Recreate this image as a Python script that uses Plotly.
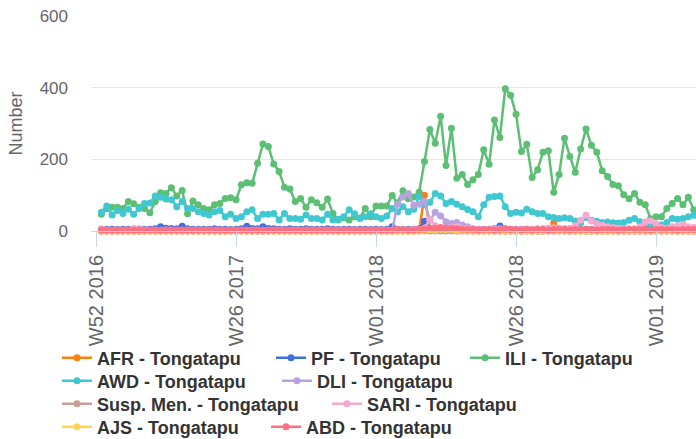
import plotly.graph_objects as go

# week index (position of each weekly report on the category axis)
week_idx = list(range(1, 112))
tick_idx = [0, 26, 52, 78, 104]
tick_labels = ["W52 2016", "W26 2017", "W01 2018", "W26 2018", "W01 2019"]

afr = [0,0,0,0,0,0,0,0,0,0, 0,0,0,0,0,0,0,0,0,0, 0,0,0,0,0,0,0,0,0,0,
       0,0,0,0,0,0,0,0,0,0, 0,0,0,0,0,0,0,0,0,0, 0,0,0,0,0,0,0,0,0,1,
       100,4,2,10,6,3,2,1,0,0, 0,0,0,0,0,0,0,0,0,0, 0,0,0,2,22,5,1,0,0,0,
       0,0,0,0,0,0,0,0,0,0, 0,0,0,0,0,0,0,0,0,0,0]
pf = [4,5,5,4,5,5,4,5,5,5, 6,12,8,7,6,13,6,5,5,5, 5,6,5,5,4,5,6,13,7,6,
      12,7,6,5,5,6,5,5,6,5, 5,5,6,5,4,5,5,4,5,5, 4,5,4,5,12,5,4,5,5,6,
      27,8,5,4,5,4,5,5,4,5, 5,4,5,6,14,6,5,4,5,5, 4,5,5,4,5,5,4,5,4,4,
      5,4,4,5,4,4,4,5,4,4, 4,5,4,4,4,5,4,4,4,5,4]
ili = [47,62,66,66,63,82,76,66,63,51, 82,107,105,121,98,113,48,84,73,63,
       59,73,77,91,93,87,129,135,133,189, 243,236,187,166,122,117,82,91,66,87,
       79,66,89,49,31,36,31,40,36,63, 40,70,70,70,99,78,112,90,95,108,
       194,283,245,320,183,287,147,158,130,143, 158,227,186,310,261,397,379,326,222,242,
       149,171,220,224,108,158,259,208,164,229, 285,239,220,168,152,130,126,101,90,105,
       80,73,34,40,40,63,77,91,73,94,59]
awd = [52,70,45,57,49,61,47,63,77,78, 98,94,89,87,68,82,63,63,54,49,
       45,54,57,40,47,35,40,54,59,35, 47,47,49,31,49,35,35,33,45,35,
       35,31,47,31,33,40,59,48,35,40, 48,40,35,42,63,54,68,54,61,96,
       73,80,105,98,77,82,75,68,60,54, 40,73,94,96,98,68,49,52,50,61,
       54,49,49,40,38,35,37,35,28,22, 38,30,27,24,25,23,22,24,30,35,
       26,21,19,17,17,24,35,33,35,40,44]
dli = [0,0,0,0,0,0,0,0,0,0, 0,0,0,0,0,0,0,0,0,0, 0,0,0,0,0,0,0,0,0,0,
       0,0,0,0,0,0,0,0,0,0, 0,0,0,0,0,0,0,0,0,0, 0,0,0,0,0,75,95,105,72,75,
       82,30,52,42,26,21,24,17,12,6, 4,3,2,2,1,1,1,0,0,0, 0,0,0,0,0,0,0,0,0,0,
       0,0,0,0,0,0,0,0,0,0, 0,0,0,0,0,0,0,0,0,0,0]
susp_men = [0,0,0,0,0,0,0,0,0,0, 0,0,0,0,0,0,0,0,0,0, 0,0,0,0,0,0,0,0,0,0,
            0,0,0,0,0,0,0,0,0,0, 0,0,0,0,0,0,0,0,0,0, 0,0,0,0,0,0,0,0,0,0,
            0,0,0,0,0,0,0,0,0,0, 0,0,0,0,0,0,0,0,0,0, 0,0,0,0,0,0,0,0,0,0,
            0,0,0,0,0,0,0,0,0,0, 0,0,0,0,0,0,0,0,0,0,0]
sari = [6,3,2,3,2,3,7,6,3,2, 2,2,3,2,2,2,2,2,2,2, 2,2,2,2,2,2,2,2,2,2,
        2,2,2,2,2,2,2,2,2,2, 2,2,2,2,2,2,2,2,2,2, 2,2,2,2,2,3,3,3,4,5,
        8,32,15,10,8,10,12,8,6,5, 4,4,4,5,6,5,4,4,4,5, 5,6,7,8,9,8,7,8,14,30,
        45,28,20,16,12,10,8,7,6,6, 12,25,28,20,10,8,12,14,18,12,10]
ajs = [0,0,0,0,0,0,0,0,0,0, 0,0,0,0,0,0,0,0,0,0, 0,0,0,0,0,0,0,0,0,0,
       0,0,0,0,0,0,0,0,0,0, 0,0,0,0,0,0,0,0,0,0, 0,0,0,0,0,0,0,0,0,0,
       2,4,3,5,4,5,3,2,1,1, 0,0,0,0,1,0,0,0,0,0, 0,0,0,1,2,1,0,0,0,0,
       0,0,0,0,0,0,0,0,0,0, 0,0,0,0,0,0,0,0,0,0,0]
abd = [3,3,2,3,3,3,2,3,3,3, 3,2,3,3,3,3,3,2,3,3, 3,3,3,2,3,3,3,3,3,3,
       2,3,3,3,3,3,3,2,3,3, 3,3,3,3,2,3,3,3,3,3, 3,3,3,3,3,4,4,3,3,4,
       5,7,8,9,8,7,6,5,4,4, 3,4,4,3,4,5,4,4,3,4, 3,4,4,3,4,4,4,3,4,4,
       4,4,3,4,4,4,3,4,4,4, 4,4,3,4,4,4,4,3,4,4,4]

series_names = ["AFR - Tongatapu", "PF - Tongatapu", "ILI - Tongatapu",
                "AWD - Tongatapu", "DLI - Tongatapu", "Susp. Men. - Tongatapu",
                "SARI - Tongatapu", "AJS - Tongatapu", "ABD - Tongatapu"]
series_values = [afr, pf, ili, awd, dli, susp_men, sari, ajs, abd]
colors = ["#ff7f0e", "#3d6fe3", "#5cbf73", "#3fc8d1", "#b9a4e2",
          "#c79f97", "#f5a9d0", "#ffd54f", "#ff6f80"]

W, H = 696, 439
L, R, T, B = 91, 0, 16, 208
pw, ph = W - L - R, H - T - B

# legend item anchors (px): symbol-left x, row centre y
legend_px = [(62, 358), (276, 358), (470, 358),
             (62, 381), (282, 381),
             (62, 404), (332, 404),
             (62, 427), (271, 427)]

FONT = "Liberation Sans, Arial, sans-serif"
fig = go.Figure()
layout_legends = {}
for k, (name, vals, col) in enumerate(zip(series_names, series_values, colors)):
    lname = "legend" if k == 0 else f"legend{k+1}"
    fig.add_trace(go.Scatter(
        x=week_idx, y=vals, name=name, mode="lines+markers",
        line=dict(color=col, width=2.5),
        marker=dict(color=col, size=7),
        cliponaxis=False, legend=lname))
    px_x, px_y = legend_px[k]
    layout_legends[lname] = dict(
        x=(px_x - 5 - L) / pw, y=(T + ph - px_y) / ph,
        xanchor="left", yanchor="middle", orientation="h",
        bgcolor="rgba(0,0,0,0)", borderwidth=0,
        font=dict(family=FONT, size=18, color="#333333", weight="bold"),
        itemclick=False)

fig.update_layout(
    width=W, height=H, margin=dict(l=L, r=R, t=T, b=B, autoexpand=False),
    paper_bgcolor="white", plot_bgcolor="white",
    showlegend=True,
    xaxis=dict(range=[-0.93, 111.42], tickmode="array", tickvals=tick_idx,
               ticktext=tick_labels, tickangle=-90, ticks="outside",
               ticklen=15, tickcolor="#ccd6eb", showline=True,
               linecolor="#ccd6eb", linewidth=1, showgrid=False,
               zeroline=False,
               tickfont=dict(family=FONT, size=20, color="#666666")),
    yaxis=dict(range=[0, 600], tickvals=[0, 200, 400, 600], showgrid=True,
               gridcolor="#e6e6e6", gridwidth=1, zeroline=False, ticks="",
               ticklabelstandoff=22,
               tickfont=dict(family=FONT, size=17, color="#666666")),
    annotations=[dict(text="Number", textangle=-90, xref="paper", yref="paper",
                      x=(15 - L) / pw, y=0.5, xanchor="center", yanchor="middle",
                      showarrow=False,
                      font=dict(family=FONT, size=18, color="#666666"))],
    **layout_legends)

fig.write_html("out.html",
               config={"displayModeBar": False},
               post_script="document.body.style.margin='0px';"
                           "document.body.style.overflow='hidden';")
